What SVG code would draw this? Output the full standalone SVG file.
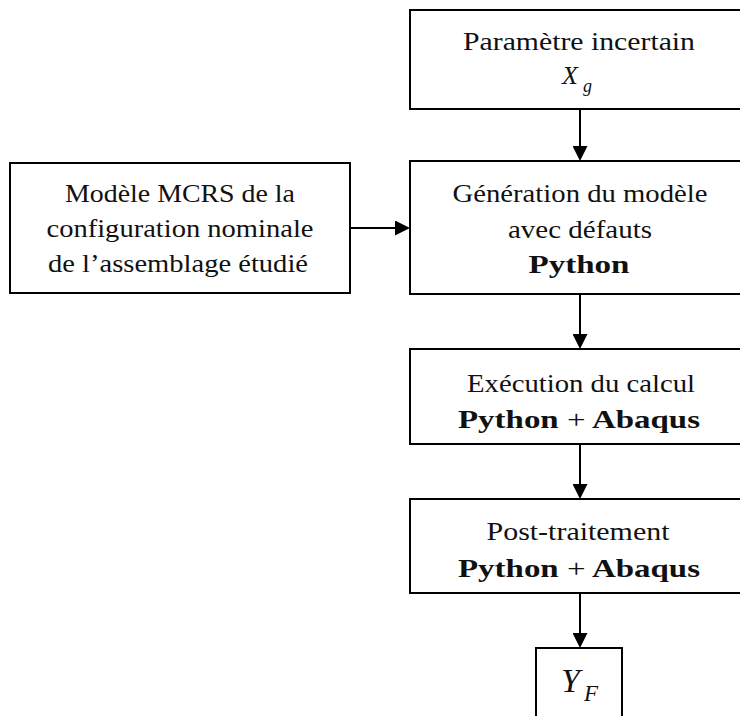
<svg xmlns="http://www.w3.org/2000/svg" width="740" height="716" viewBox="0 0 740 716">
<defs>
<style>
.box{fill:#fff;stroke:#000;stroke-width:2}
.t{font-family:"Liberation Serif","Times New Roman",serif;font-size:25px;fill:#111;text-anchor:middle}
.m{font-family:"Liberation Serif","Times New Roman",serif;font-style:italic;fill:#111;text-anchor:start}
.b{font-weight:bold}
.conn{stroke:#000;stroke-width:2;fill:none}
</style>
<marker id="ah" viewBox="0 0 15 15" refX="7" refY="7.5" markerWidth="15" markerHeight="15" orient="auto" markerUnits="userSpaceOnUse">
<path d="M0,0 L15,7.5 L0,15 z" fill="#000"/>
</marker>
</defs>
<rect width="740" height="716" fill="#fff"/>

<g id="parametre">
<rect class="box" x="410" y="10" width="340" height="99"/>
<text class="t" x="579" y="50" textLength="232" lengthAdjust="spacingAndGlyphs">Paramètre incertain</text>
<text class="m" x="562" y="84" font-size="26">X</text>
<text class="m" x="583" y="92" font-size="18">g</text>
</g>

<g id="modele">
<rect class="box" x="10" y="163" width="340" height="130"/>
<text class="t" x="180" y="202" textLength="230" lengthAdjust="spacingAndGlyphs">Modèle MCRS de la</text>
<text class="t" x="180" y="237" textLength="267" lengthAdjust="spacingAndGlyphs">configuration nominale</text>
<text class="t" x="178" y="272" textLength="260" lengthAdjust="spacingAndGlyphs">de l’assemblage étudié</text>
</g>

<g id="generation">
<rect class="box" x="410" y="161" width="340" height="133"/>
<text class="t" x="580" y="202" textLength="255" lengthAdjust="spacingAndGlyphs">Génération du modèle</text>
<text class="t" x="580" y="238" textLength="144" lengthAdjust="spacingAndGlyphs">avec défauts</text>
<text class="t b" x="579" y="273" textLength="101" lengthAdjust="spacingAndGlyphs">Python</text>
</g>

<g id="execution">
<rect class="box" x="410" y="349" width="340" height="95"/>
<text class="t" x="581" y="392" textLength="228" lengthAdjust="spacingAndGlyphs">Exécution du calcul</text>
<text class="t b" x="579" y="428" textLength="242" lengthAdjust="spacingAndGlyphs">Python <tspan font-weight="normal">+</tspan> Abaqus</text>
</g>

<g id="post">
<rect class="box" x="410" y="499" width="340" height="94"/>
<text class="t" x="578" y="540" textLength="183" lengthAdjust="spacingAndGlyphs">Post-traitement</text>
<text class="t b" x="579" y="577" textLength="242" lengthAdjust="spacingAndGlyphs">Python <tspan font-weight="normal">+</tspan> Abaqus</text>
</g>

<g id="yf">
<rect class="box" x="536" y="648" width="86" height="90"/>
<text class="m" x="561" y="692" font-size="34">Y</text>
<text class="m" x="584" y="701" font-size="23">F</text>
</g>

<g id="connectors">
<line class="conn" x1="580" y1="109" x2="580" y2="153" marker-end="url(#ah)"/>
<line class="conn" x1="350" y1="228" x2="402" y2="228" marker-end="url(#ah)"/>
<line class="conn" x1="580" y1="294" x2="580" y2="341" marker-end="url(#ah)"/>
<line class="conn" x1="580" y1="444" x2="580" y2="491" marker-end="url(#ah)"/>
<line class="conn" x1="580" y1="593" x2="580" y2="640" marker-end="url(#ah)"/>
</g>
</svg>
